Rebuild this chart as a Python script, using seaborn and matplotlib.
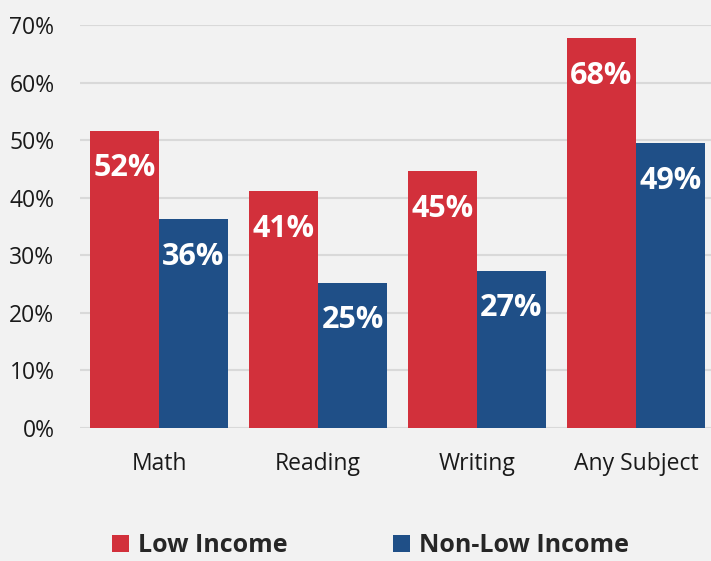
import matplotlib
matplotlib.use("Agg")
import matplotlib.pyplot as plt
import seaborn as sns
import pandas as pd
from matplotlib.patches import Patch

categories = ["Math", "Reading", "Writing", "Any Subject"]
groups = ["Low Income", "Non-Low Income"]
low_income = [51.6, 41.1, 44.6, 67.7]
non_low_income = [36.3, 25.2, 27.3, 49.5]
low_labels = ["52%", "41%", "45%", "68%"]
non_low_labels = ["36%", "25%", "27%", "49%"]
yticks = [0, 10, 20, 30, 40, 50, 60, 70]
ytick_labels = ["0%", "10%", "20%", "30%", "40%", "50%", "60%", "70%"]

colors = {"Low Income": "#d2303b", "Non-Low Income": "#1f4f87"}
bg = "#f2f2f2"

df = pd.DataFrame({
    "Subject": categories * 2,
    "Group": [groups[0]] * 4 + [groups[1]] * 4,
    "Value": low_income + non_low_income,
    "Label": low_labels + non_low_labels,
})

sns.set_theme(style="white")
plt.rcParams["font.family"] = ["Open Sans", "DejaVu Sans"]

fig = plt.figure(figsize=(7.11, 5.61), dpi=100, facecolor=bg)
ax = fig.add_axes([79.5 / 711, (561 - 428) / 561, 636 / 711, 403 / 561])
ax.set_facecolor(bg)

sns.barplot(data=df, x="Subject", y="Value", hue="Group", order=categories,
            hue_order=groups, palette=colors, width=0.868, gap=0,
            saturation=1, edgecolor="none", linewidth=0, legend=False, ax=ax, zorder=3)

ax.set_ylim(0, 70)
ax.set_xlim(-0.5, 3.5)
ax.set_yticks(yticks)
ax.set_yticklabels(ytick_labels)
ax.yaxis.grid(True, color="#d9d9d9", linewidth=1.5, zorder=0)
ax.set_axisbelow(True)
for s in ax.spines.values():
    s.set_visible(False)
ax.tick_params(axis="both", length=0, labelsize=16.5, colors="#1a1a1a")
ax.tick_params(axis="y", pad=18)
ax.tick_params(axis="x", pad=17)
ax.set_xlabel("")
ax.set_ylabel("")

# bar labels
for container, labels in zip(ax.containers, [low_labels, non_low_labels]):
    for bar, lab in zip(container, labels):
        ax.annotate(lab, (bar.get_x() + bar.get_width() / 2, bar.get_height()),
                    xytext=(0, -27), textcoords="offset points",
                    ha="center", va="center", color="white",
                    fontsize=22, fontweight="bold", zorder=5)

handles = [Patch(facecolor=colors[g], edgecolor="none") for g in groups]
leg = fig.legend(handles, groups, loc="center", bbox_to_anchor=(0.521, 0.027),
                 ncol=2, frameon=False, handlelength=0.7, handleheight=0.7,
                 handletextpad=0.35, columnspacing=4.2,
                 prop={"size": 18, "weight": "bold"})

fig.savefig("out.png", dpi=100, facecolor=bg)
